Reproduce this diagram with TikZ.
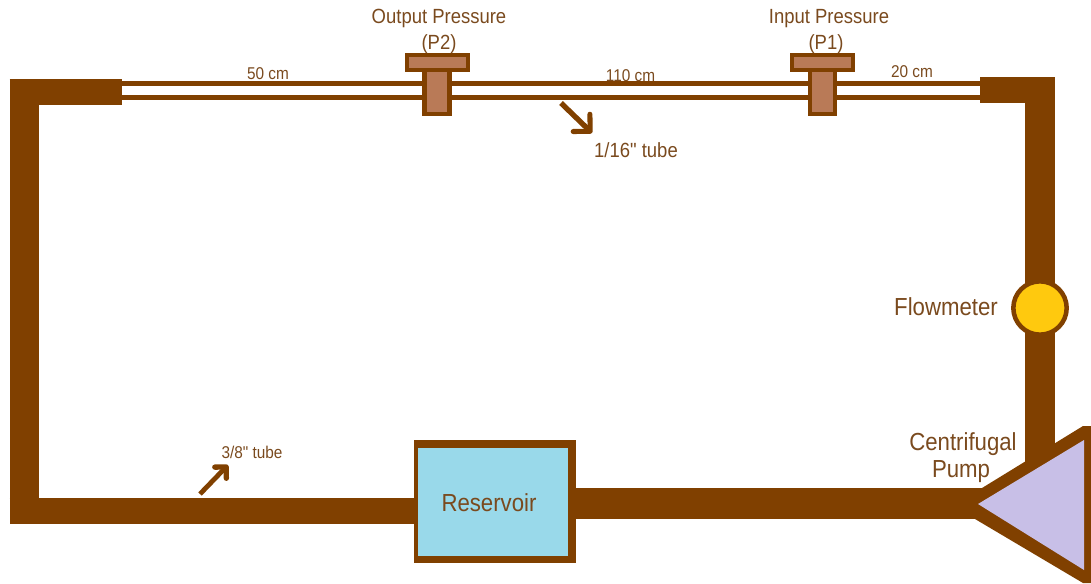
\documentclass[tikz,border=0pt]{standalone}
\usepackage{fontspec}
\setmainfont{Liberation Sans}
\newfontfamily\narrowfont[FakeStretch=0.9,Ligatures=NoCommon]{Liberation Sans}
\usetikzlibrary{arrows.meta}
\definecolor{pipebrown}{HTML}{804000}
\definecolor{textbrown}{HTML}{7A4A1E}
\definecolor{gaugefill}{HTML}{B97A57}
\definecolor{tankblue}{HTML}{99D9EA}
\definecolor{meteryellow}{HTML}{FFC90E}
\definecolor{pumplilac}{HTML}{C8BFE7}
\tikzset{
  pipewide/.style={draw=pipebrown,line width=19.5pt},
  pipevert/.style={draw=pipebrown,line width=22pt},
  pipethin/.style={draw=pipebrown,line width=3.6pt},
  gaugepart/.style={draw=pipebrown,fill=gaugefill,line width=3.4pt,inner sep=0pt,outer sep=0pt},
  label/.style={text=textbrown,inner sep=0pt,align=center},
  labelbig/.style={label,font=\narrowfont\fontsize{18.5}{20}\selectfont},
  labelmid/.style={label,font=\narrowfont\fontsize{15.4}{17}\selectfont},
  labelsmall/.style={label,font=\narrowfont\fontsize{12.8}{14}\selectfont},
  pointer/.style={draw=pipebrown,line width=4pt,-{Straight Barb[length=9pt,width=18pt,line width=3.8pt,round=false]}},
  pointersmall/.style={draw=pipebrown,line width=3.6pt,-{Straight Barb[length=6pt,width=12pt,line width=4pt,round=false]}},
}
\begin{document}
\begin{tikzpicture}[x=0.75pt,y=-0.75pt]
\useasboundingbox (0,0) rectangle (1091,583);
% fixed points of the loop
\coordinate (lefttop) at (24.5,92);
\coordinate (leftbottom) at (24.5,524);
\coordinate (blcorner) at (9.5,511);
\coordinate (tlstub) at (121.5,92);
\coordinate (tlcorner) at (9.5,92);
\coordinate (trstub) at (980,90);
\coordinate (trcorner) at (1055,90);
\coordinate (righttop) at (1040,77);
\coordinate (pumpjoin) at (985,503.5);
\coordinate (rightend) at (1040,470);
\coordinate (thintopL) at (121.5,83.5);
\coordinate (thinbotL) at (121.5,97.8);
\coordinate (thintopR) at (980,83.5);
\coordinate (thinbotR) at (980,97.8);
% thin tube
\draw[pipethin] (thintopL) -- (thintopR);
\draw[pipethin] (thinbotL) -- (thinbotR);
% sensors
\node[gaugepart,minimum width=18.9pt,minimum height=33pt] (p2stem) at (437,92) {};
\node[gaugepart,minimum width=45.6pt,minimum height=11pt] (p2cap) at (437.5,62.5) {};
\node[gaugepart,minimum width=19pt,minimum height=33pt] (p1stem) at (822.5,92) {};
\node[gaugepart,minimum width=45.6pt,minimum height=11pt] (p1cap) at (822.5,62.5) {};
% reservoir and flowmeter and wide pipes
\node[fill=pipebrown,inner sep=0pt,outer sep=0pt,minimum width=121.5pt,minimum height=92.25pt] (resframe) at (495,501.5) {};
\draw[pipewide] (blcorner) -- (blcorner -| resframe.west);
\draw[pipewide] (tlcorner) -- (tlstub);
\draw[pipevert] (lefttop |- tlcorner) ++(0,-13) -- (leftbottom);
\draw[pipewide] (trstub) -- (trcorner);
\draw[pipevert] (righttop) -- (rightend);
\draw[draw=pipebrown,line width=23pt] (resframe.east |- pumpjoin) -- (pumpjoin);
\node[fill=tankblue,inner sep=0pt,outer sep=0pt,minimum width=112.5pt,minimum height=81pt] (reservoir) at (493,502) {};
\node[circle,draw=pipebrown,fill=meteryellow,line width=3.4pt,minimum size=40pt,inner sep=0pt,outer sep=0pt] (flowmeter) at (1040,308) {};
% pump
\fill[pipebrown] (982,488) -- (1083,426) -- (1091,426) -- (1091,583) -- (1083,583) -- (975,519) -- cycle;
\fill[pumplilac] (978,504) -- (1084,440) -- (1084,570) -- cycle;
% labels
\node[labelbig] (lres) at (489,503) {Reservoir};
\node[labelmid] (lp2a) at (439,18) {Output Pressure};
\node[labelmid] (lp2b) at (439,44) {(P2)};
\node[labelmid] (lp1a) at (829,19) {Input Pressure};
\node[labelmid] (lp1b) at (826,44) {(P1)};
\node[labelsmall] (l50) at (268,73.5) {50 cm};
\node[labelsmall] (l110) at (630.5,75.5) {110 cm};
\node[labelsmall] (l20) at (912,71.5) {20 cm};
\node[labelmid] (lsmalltube) at (636,150.5) {1/16{\char34} tube};
\node[labelsmall] (lwidetube) at (252,452) {3/8{\char34} tube};
\node[labelbig] (lflow) at (946,306.5) {Flowmeter};
\node[labelbig] (lcent) at (963,444) {Centrifugal};
\node[labelbig] (lpump) at (961,472) {Pump};
% pointers
\coordinate (ptrAstart) at (561,103);
\coordinate (ptrAend) at (592,133);
\coordinate (ptrBstart) at (200,494);
\coordinate (ptrBend) at (228,465);
\draw[pointer] (ptrAstart) -- (ptrAend);
\draw[pointersmall] (ptrBstart) -- (ptrBend);
\end{tikzpicture}
\end{document}
